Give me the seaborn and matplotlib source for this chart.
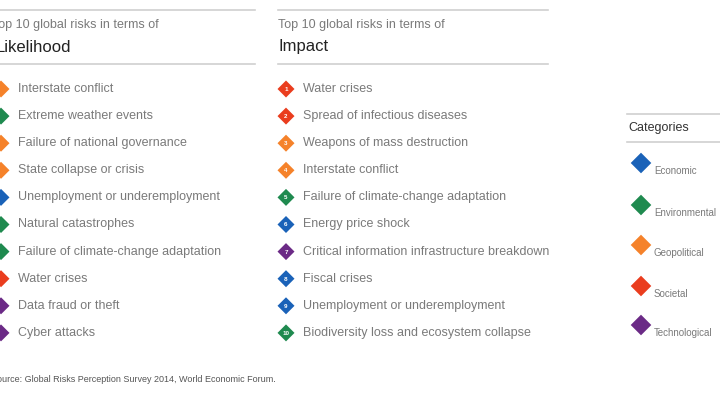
import matplotlib
matplotlib.use("Agg")
import matplotlib.pyplot as plt
import seaborn as sns
import pandas as pd

plt.rcParams["font.family"] = "Liberation Sans"

likelihood_risks = ["Interstate conflict", "Extreme weather events", "Failure of national governance",
                    "State collapse or crisis", "Unemployment or underemployment", "Natural catastrophes",
                    "Failure of climate-change adaptation", "Water crises", "Data fraud or theft", "Cyber attacks"]
likelihood_cats = ["Geopolitical", "Environmental", "Geopolitical", "Geopolitical", "Economic",
                   "Environmental", "Environmental", "Societal", "Technological", "Technological"]
impact_risks = ["Water crises", "Spread of infectious diseases", "Weapons of mass destruction",
                "Interstate conflict", "Failure of climate-change adaptation", "Energy price shock",
                "Critical information infrastructure breakdown", "Fiscal crises",
                "Unemployment or underemployment", "Biodiversity loss and ecosystem collapse"]
impact_cats = ["Societal", "Societal", "Geopolitical", "Geopolitical", "Environmental", "Economic",
               "Technological", "Economic", "Economic", "Environmental"]
categories = ["Economic", "Environmental", "Geopolitical", "Societal", "Technological"]
palette = {"Economic": "#1a62b8", "Environmental": "#1f8a4f", "Geopolitical": "#f5822a",
           "Societal": "#ea3d1e", "Technological": "#6b2a86"}
ranks = list(range(1, 11))

grey = "#7a7a7a"
row_y = lambda r: 89 + (r - 1) * 27.1

fig = plt.figure(figsize=(7.2, 4.05), dpi=100)
ax = fig.add_axes([0, 0, 1, 1])
ax.set_xlim(0, 720)
ax.set_ylim(405, 0)
ax.axis("off")

lik = pd.DataFrame({"rank": ranks, "risk": likelihood_risks, "cat": likelihood_cats})
lik["y"] = lik["rank"].map(row_y)
lik["x"] = 1
imp = pd.DataFrame({"rank": ranks, "risk": impact_risks, "cat": impact_cats})
imp["y"] = imp["rank"].map(row_y)
imp["x"] = 286

for df in (lik, imp):
    sns.scatterplot(data=df, x="x", y="y", hue="cat", palette=palette, marker="D", s=75,
                    edgecolor="none", legend=False, ax=ax, clip_on=False)
    for _, r in df.iterrows():
        ax.text(r["x"] + 17, r["y"], r["risk"], fontsize=9, color=grey, va="center")
for _, r in imp.iterrows():
    ax.text(r["x"], r["y"] + 0.5, str(r["rank"]), fontsize=4.5, color="white",
            ha="center", va="center", fontweight="bold")

# headers
for x0, x1, title in [(-20, 255, "Likelihood"), (278, 548, "Impact")]:
    ax.plot([max(x0, 0), x1], [10, 10], color="#d0d0d0", lw=1.2)
    ax.plot([max(x0, 0), x1], [64, 64], color="#d0d0d0", lw=1.2)
    ax.text(x0 if x0 > 0 else -8, 25, "Top 10 global risks in terms of", fontsize=9, color=grey, va="center")
    ax.text(x0 if x0 > 0 else -4, 47, title, fontsize=12, color="#222222", va="center")

# categories legend
cat_df = pd.DataFrame({"cat": categories, "y": [163, 205, 245, 286, 325], "x": 641})
ax.plot([627, 720], [114, 114], color="#d0d0d0", lw=1.2)
ax.plot([627, 720], [142, 142], color="#d0d0d0", lw=1.2)
ax.text(628, 128, "Categories", fontsize=9, color="#333333", va="center")
sns.scatterplot(data=cat_df, x="x", y="y", hue="cat", palette=palette, marker="D", s=110,
                edgecolor="none", legend=False, ax=ax)
for _, r in cat_df.iterrows():
    ax.text(654, r["y"] + 8, r["cat"], fontsize=7, color=grey, va="center")

ax.text(-9, 380, "Source: Global Risks Perception Survey 2014, World Economic Forum.",
        fontsize=6.5, color="#555555", va="center")

fig.savefig("out.png", dpi=100)
